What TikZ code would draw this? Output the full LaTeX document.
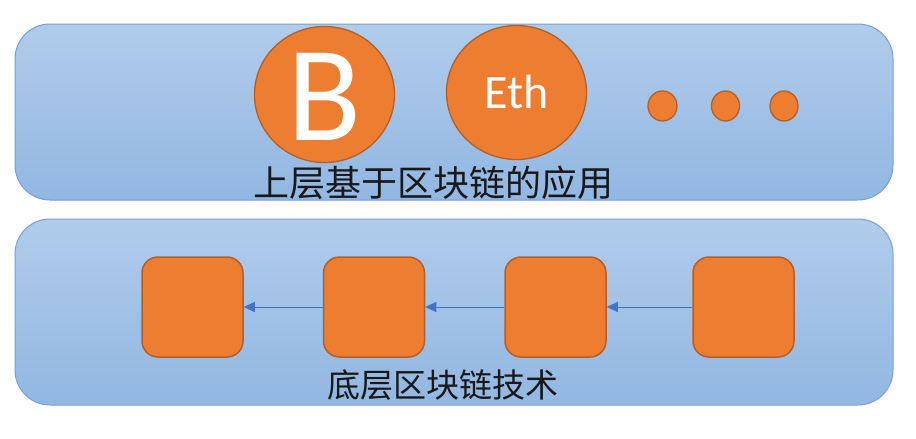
\documentclass[tikz,border=0pt]{standalone}
\usepackage{fontspec}
\setmainfont{Carlito}
\newfontfamily\cjk{Noto Sans CJK SC}
\usetikzlibrary{arrows.meta,shapes.geometric}
\definecolor{panelTop}{RGB}{176,204,235}
\definecolor{panelBot}{RGB}{146,183,226}
\definecolor{panelLine}{RGB}{118,160,212}
\definecolor{orangeFill}{RGB}{237,125,49}
\definecolor{orangeLine}{RGB}{180,95,40}
\definecolor{arrowBlue}{RGB}{68,114,196}
\definecolor{txt}{RGB}{25,25,25}
\tikzset{
  panel/.style={draw=panelLine, line width=1pt, top color=panelTop, bottom color=panelBot,
    rounded corners=35pt, inner sep=0pt},
  coin/.style={ellipse, draw=orangeLine, line width=1.3pt, fill=orangeFill, inner sep=0pt, text=white},
  block/.style={draw=orangeLine, line width=1.5pt, fill=orangeFill, rounded corners=16pt,
    minimum width=101pt, minimum height=100pt, inner sep=0pt},
  chainarrow/.style={draw=arrowBlue, line width=1pt, -{Triangle[length=11pt,width=10pt]}},
  label/.style={text=txt, inner sep=0pt}
}
\begin{document}
\begin{tikzpicture}[x=1pt,y=-1pt]
\useasboundingbox (0,0) rectangle (916,439);
\node[panel, minimum width=878pt, minimum height=176pt] (top) at (454,112) {};
\node[panel, minimum width=878pt, minimum height=186pt] (bottom) at (454,312) {};
% upper layer
\node[coin, minimum width=140pt, minimum height=136pt] (btc) at (324.5,94.5) {};
\node[text=white, font=\fontsize{136}{136}\selectfont, inner sep=0pt] (btclabel) at ([yshift=-2pt]btc.center) {B};
\node[coin, minimum width=140pt, minimum height=134pt] (eth) at (516.5,92.5) {};
\node[text=white, font=\fontsize{48}{48}\selectfont, inner sep=0pt] (ethlabel) at (eth.center) {Eth};
\node[coin, minimum width=29pt, minimum height=30pt] (d1) at (662.5,106) {};
\node[coin, minimum width=28pt, minimum height=30pt] (d2) at (725.5,106) {};
\node[coin, minimum width=28pt, minimum height=30pt] (d3) at (784,106) {};
\node[label, font=\cjk\fontsize{36}{36}\selectfont] (toplabel) at (433.5,183) {上层基于区块链的应用};
% lower layer
\node[block] (s1) at (192.5,307) {};
\node[block] (s2) at (374,307) {};
\node[block] (s3) at (555.5,307) {};
\node[block] (s4) at (743.5,307) {};
\draw[chainarrow] (s2.west) -- (s1.east);
\draw[chainarrow] (s3.west) -- (s2.east);
\draw[chainarrow] (s4.west) -- (s3.east);
\node[label, font=\cjk\fontsize{33}{33}\selectfont] (bottomlabel) at (443,385) {底层区块链技术};
\end{tikzpicture}
\end{document}
